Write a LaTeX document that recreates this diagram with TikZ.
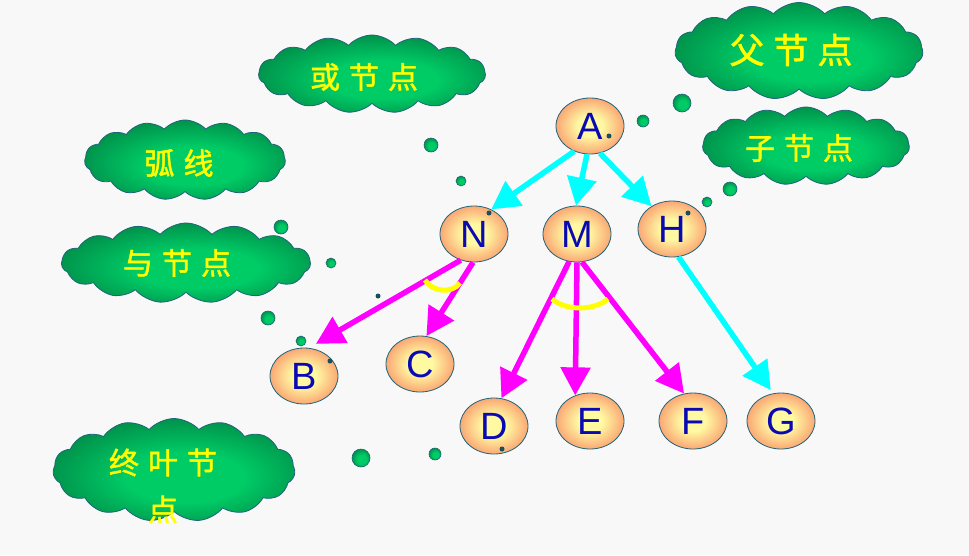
\documentclass[tikz,border=0pt]{standalone}
\usepackage{fontspec}
\setsansfont{Liberation Sans}
\newfontfamily\cjk{Noto Sans CJK SC}[FakeBold=1.6]
\usepackage{tikz}
\usetikzlibrary{arrows.meta,shapes.geometric,shapes.symbols}

\definecolor{paper}{HTML}{F8F8F8}
\definecolor{edgeteal}{HTML}{1F6478}
\definecolor{nodeyellow}{HTML}{FFF9A2}
\definecolor{nodemid}{HTML}{FBB27A}
\definecolor{noderim}{HTML}{F2705E}
\definecolor{letterblue}{HTML}{0A0AB4}
\definecolor{cloudlight}{HTML}{00CC66}
\definecolor{clouddark}{HTML}{006A38}
\definecolor{wordyellow}{HTML}{FFFF00}
\definecolor{arccyan}{HTML}{00FFFF}
\definecolor{arcmagenta}{HTML}{FF00FF}

\pgfdeclareradialshading{nodeglow}{\pgfpoint{0bp}{0bp}}{color(0bp)=(nodeyellow); color(9bp)=(nodeyellow); color(23bp)=(nodemid); color(36bp)=(noderim); color(50bp)=(noderim)}
\pgfdeclareradialshading{cloudglow}{\pgfpoint{3bp}{-5bp}}{color(0bp)=(cloudlight); color(12bp)=(cloudlight); color(38bp)=(clouddark); color(50bp)=(clouddark)}

\newcommand{\cgap}{\hspace{9pt}}

\begin{document}
\begin{tikzpicture}[x=1pt,y=-1pt]
        \tikzset{vertex/.style = {shape=ellipse,draw=edgeteal,line width=0.8pt,shading=nodeglow,
                   minimum width=68pt,minimum height=56pt,inner sep=0pt,
                   text=letterblue,font=\sffamily\fontsize{38}{40}\selectfont},
                 bubble/.style = {cloud,cloud puffs=15,cloud puff arc=95,cloud ignores aspect,
                   draw=edgeteal,line width=0.8pt,shading=cloudglow,inner sep=0pt},
                 word/.style = {text=wordyellow,align=center,font=\cjk\fontsize{30}{47}\selectfont},
                 dot/.style = {circle,draw=edgeteal,line width=0.6pt,shading=cloudglow,inner sep=0pt},
                 speck/.style = {circle,fill=edgeteal!80!black,inner sep=0pt,minimum size=5pt},
                 cyanarrow/.style = {draw=arccyan,line width=5.5pt,-{Triangle[length=28pt,width=29pt]}},
                 magarrow/.style = {draw=arcmagenta,line width=5.5pt,-{Triangle[length=28pt,width=29pt]}},
                 arcline/.style = {draw=wordyellow,line width=5pt}}
        \fill[paper] (0,0) rectangle (969,555);
        \useasboundingbox (0,0) rectangle (969,555);
        % clouds
        \node[bubble,minimum width=248pt,minimum height=97pt] (fu) at (799,51) {};
        \node[bubble,minimum width=207pt,minimum height=78pt] (zi) at (806,146) {};
        \node[bubble,minimum width=227pt,minimum height=78pt] (huo) at (372,74) {};
        \node[bubble,minimum width=201pt,minimum height=80pt] (hu) at (185,160) {};
        \node[bubble,minimum width=249pt,minimum height=80pt] (yu) at (186,263) {};
        \node[bubble,minimum width=242pt,minimum height=103pt] (zhong) at (174,470) {};
        \node[word,font=\cjk\fontsize{35}{40}\selectfont] (futext) at (791,50) {父\cgap 节\cgap 点};
        \node[word] (zitext) at (799,148) {子\cgap 节\cgap 点};
        \node[word] (huotext) at (364,77) {或\cgap 节\cgap 点};
        \node[word] (hutext) at (179,163) {弧\cgap 线};
        \node[word] (yutext) at (177,263) {与\cgap 节\cgap 点};
        \node[word] (zhongtext) at (163,486) {终\cgap 叶\cgap 节\\点};
        % bubble trails
        \foreach \x/\y/\d [count=\i] in {682/103/18, 643/121/12, 730/189/14, 707/202/10,
                 431/145/14, 461/181/10, 281/227/14, 331/263/10,
                 268/318/14, 301/341/10, 361/458/18, 435/454/12}
            \node[dot,minimum size=\d pt] (dot\i) at (\x,\y) {};
        % vertices
        \node[vertex] (A) at (590,126) {A};
        \node[vertex] (N) at (474,234) {N};
        \node[vertex] (M) at (577,234) {M};
        \node[vertex] (H) at (672,229) {H};
        \node[vertex] (B) at (304,376) {B};
        \node[vertex] (C) at (420,364) {C};
        \node[vertex] (D) at (494,426) {D};
        \node[vertex] (E) at (590,421) {E};
        \node[vertex] (F) at (693,421) {F};
        \node[vertex] (G) at (781,421) {G};
        % arcs
        \draw[cyanarrow] (A.238) -- (N.55);
        \draw[cyanarrow] (A.264) -- (M.92);
        \draw[cyanarrow] (A.290) -- (H.132);
        \draw[cyanarrow,shorten >=4pt] (H.283) -- (G.106);
        \draw[magarrow,shorten >=8pt] (N.243) -- (B.80);
        \draw[magarrow] (N.268) -- (C.77);
        \draw[magarrow] (M.254) -- (D.75);
        \draw[magarrow] (M.270) -- (E.120);
        \draw[magarrow] (M.280) -- (F.108);
        % and-marks
        \draw[arcline] (425,280) .. controls (432,292) and (452,294) .. (460,283);
        \draw[arcline] (552,299) .. controls (566,311) and (594,311) .. (608,299);
        % specks
        \foreach \x/\y [count=\i] in {609/136, 688/213, 489/213, 378/296, 330/361, 502/449}
            \node[speck] (speck\i) at (\x,\y) {};
\end{tikzpicture}
\end{document}
